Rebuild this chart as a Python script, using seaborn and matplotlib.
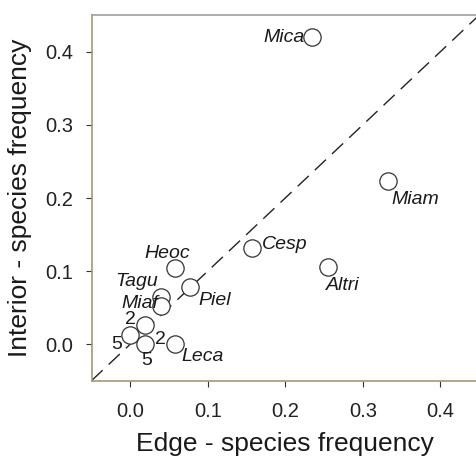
import matplotlib
matplotlib.use("Agg")
import matplotlib.pyplot as plt
import seaborn as sns
import pandas as pd

# ---- data ----
species = ["Mica", "Miam", "Cesp", "Altri", "Heoc", "Piel", "Tagu", "Miaf",
           "g2", "g5a", "g5b", "Leca"]
edge_freq = [0.235, 0.333, 0.157, 0.255, 0.058, 0.077, 0.040, 0.040,
             0.019, 0.000, 0.019, 0.058]
interior_freq = [0.420, 0.223, 0.132, 0.105, 0.104, 0.078, 0.065, 0.052,
                 0.026, 0.013, 0.000, 0.000]
point_labels = ["Mica", "Miam", "Cesp", "Altri", "Heoc", "Piel", "Tagu", "Miaf",
                "2", "5", "5", "Leca"]
extra_counts = ["2"]  # count label next to the bottom cluster point
ticks = [0.0, 0.1, 0.2, 0.3, 0.4]

df = pd.DataFrame({"species": species, "edge": edge_freq, "interior": interior_freq})

sns.set_style("ticks")
plt.rcParams["font.family"] = ["Liberation Sans", "DejaVu Sans"]

fig = plt.figure(figsize=(4.77, 4.59), dpi=100)
ax = fig.add_axes([91.5 / 477, (459 - 380.7) / 459, (479 - 91.5) / 477, (380.7 - 15.3) / 459])

ax.axline((0, 0), slope=1, color="#222222", lw=1.0, dashes=(11, 6), zorder=1)

sns.scatterplot(data=df, x="edge", y="interior", ax=ax, marker="o", s=155,
                facecolor="white", edgecolor="#333333", linewidth=0.9, zorder=3)

# label offsets in pixels (dx, dy), alignment, italic
label_pos = {
    0: (-8, 0, "right", True),
    1: (3, -18, "left", True),
    2: (10, 3, "left", True),
    3: (-2, -18, "left", True),
    4: (-31, 15, "left", True),
    5: (8, -13, "left", True),
    6: (-3, 15, "right", True),
    7: (-3, 3, "right", True),
    8: (-15, 6, "center", False),
    9: (-14, -10, "center", False),
    10: (2, -16, "center", False),
    11: (6, -12, "left", True),
}
for i, lab in enumerate(point_labels):
    dx, dy, ha, it = label_pos[i]
    ax.annotate(lab, (edge_freq[i], interior_freq[i]), xytext=(dx, dy),
                textcoords="offset pixels", ha=ha, va="center",
                fontsize=14, style="italic" if it else "normal",
                color="#1a1a1a", zorder=4)
ax.annotate(extra_counts[0], (edge_freq[10], interior_freq[10]), xytext=(15, 5),
            textcoords="offset pixels", ha="center", va="center",
            fontsize=14, color="#1a1a1a", zorder=4)

ax.set_xlim(-0.05, 0.45)
ax.set_ylim(-0.05, 0.45)
ax.set_xticks(ticks)
ax.set_yticks(ticks)
ax.set_xticklabels([f"{t:.1f}" for t in ticks])
ax.set_yticklabels([f"{t:.1f}" for t in ticks])
ax.tick_params(axis="both", length=4.5, width=0.8, color="#333333",
               labelsize=14.5, labelcolor="#222222")
ax.tick_params(axis="y", pad=9)
ax.tick_params(axis="x", pad=11)

ax.set_xlabel("Edge - species frequency", fontsize=19, color="#1a1a1a", labelpad=8)
ax.set_ylabel("Interior - species frequency", fontsize=19, color="#1a1a1a", labelpad=9)

for side in ["left", "bottom"]:
    ax.spines[side].set_color("#a89870")
    ax.spines[side].set_linewidth(1.2)
for side in ["top", "right"]:
    ax.spines[side].set_visible(True)
    ax.spines[side].set_color("#a0a0a0")
    ax.spines[side].set_linewidth(1.2)

fig.savefig("out.png", dpi=100)
